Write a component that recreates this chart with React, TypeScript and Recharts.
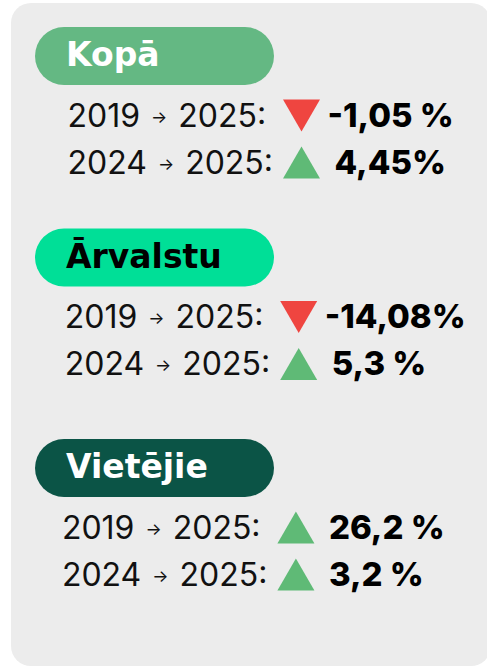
import React from 'react';
import { ScatterChart, Scatter, XAxis, YAxis } from 'recharts';

// ---- data ----
const groups = ['Kopā', 'Ārvalstu', 'Vietējie'];
const fromYears = ['2019', '2024'];
const toYear = '2025';
const changeSince2019 = [-1.05, -14.08, 26.2];
const changeSince2024 = [4.45, 5.3, 3.2];
const labelsSince2019 = ['-1,05 %', '-14,08%', '26,2 %'];
const labelsSince2024 = ['4,45%', '5,3 %', '3,2 %'];

// ---- styles ----
const pillFills = ['#64b883', '#00df97', '#0b5446'];
const pillTextColors = ['#ffffff', '#000000', '#ffffff'];
const RED = '#ef4540';
const GREEN = '#5fba76';
const FONT = 'Inter, "Open Sans", sans-serif';
const HEAD_FONT = '"DejaVu Sans", Inter, sans-serif';

// ---- layout ----
const W = 487;
const H = 667;
const groupOffsets = [0, 201.5, 412];
const PILL_Y0 = 56;
const PILL_X = 154.5;
const ROW_Y0 = 126.5;
const ROW_PITCH = 47;
const TRI_X0 = 301.5;

const headingData = groups.map((name, g) => ({
  x: PILL_X,
  y: PILL_Y0 + groupOffsets[g],
  name,
  g,
}));

const rowData = groups.flatMap((name, g) =>
  fromYears.map((from, k) => ({
    x: TRI_X0 - 2.8 * g,
    y: ROW_Y0 + groupOffsets[g] + ROW_PITCH * k,
    group: name,
    from,
    value: k === 0 ? changeSince2019[g] : changeSince2024[g],
    label: k === 0 ? labelsSince2019[g] : labelsSince2024[g],
  }))
);

const HeadingShape = (props: any) => {
  const { cx, cy, payload } = props;
  const g = payload.g;
  return (
    <g>
      <rect x={cx - 119.5} y={cy - 29} width={239} height={58} rx={29} ry={29} fill={pillFills[g]} />
      <text
        x={cx - 88.5}
        y={cy + 10}
        fontFamily={HEAD_FONT}
        fontWeight={700}
        fontSize={33}
        fill={pillTextColors[g]}
      >
        {payload.name}
      </text>
    </g>
  );
};

const RowShape = (props: any) => {
  const { cx, cy, payload } = props;
  const down = payload.value < 0;
  const w = 37;
  const top = cy - 27;
  const bot = cy + 5;
  const pts = down
    ? `${cx - w / 2},${top} ${cx + w / 2},${top} ${cx},${bot}`
    : `${cx},${top} ${cx + w / 2},${bot} ${cx - w / 2},${bot}`;
  return (
    <g>
      <text x={cx - 234} y={cy} fontFamily={FONT} fontWeight={400} fontSize={32} fill="#111111">
        {payload.from}
        <tspan dx={11} dy={-4} fontSize={17}>→</tspan>
        <tspan dx={11} dy={4}>{toYear}:</tspan>
      </text>
      <polygon points={pts} fill={down ? RED : GREEN} />
      <text
        x={cx + (down ? 26 : 33)}
        y={cy}
        fontFamily={FONT}
        fontWeight={800}
        fontSize={33}
        fill="#000000"
      >
        {payload.label}
      </text>
    </g>
  );
};

export default function App() {
  return (
    <div style={{ position: 'absolute', left: 0, top: 0, width: W, height: H, background: '#ffffff' }}>
      <div
        style={{
          position: 'absolute',
          left: 11,
          top: 3,
          width: 480,
          height: 663,
          borderRadius: 20,
          background: '#ececec',
        }}
      />
      <div style={{ position: 'absolute', left: 0, top: 0 }}>
        <ScatterChart width={W} height={H} margin={{ top: 0, right: 0, bottom: 0, left: 0 }}>
          <XAxis type="number" dataKey="x" domain={[0, W]} hide />
          <YAxis type="number" dataKey="y" domain={[0, H]} reversed hide />
          <Scatter data={headingData} shape={HeadingShape} isAnimationActive={false} />
          <Scatter data={rowData} shape={RowShape} isAnimationActive={false} />
        </ScatterChart>
      </div>
    </div>
  );
}
